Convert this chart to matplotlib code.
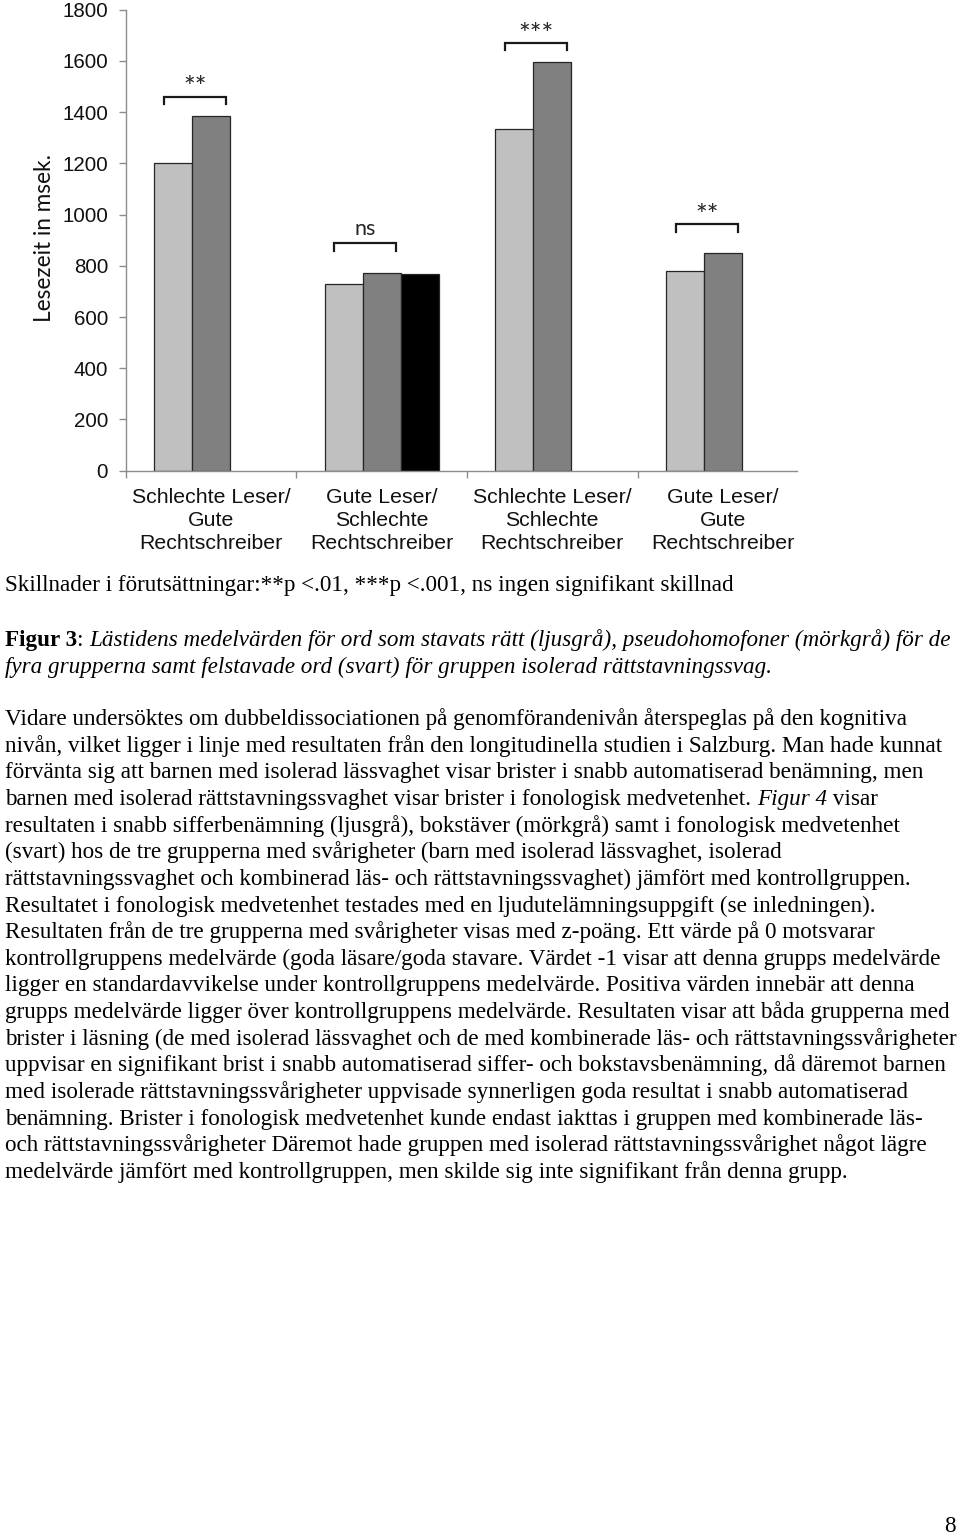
import matplotlib
matplotlib.use("Agg")
import matplotlib.pyplot as plt
import numpy as np

# ---------------- data ----------------
categories = ["Schlechte Leser/\nGute\nRechtschreiber",
              "Gute Leser/\nSchlechte\nRechtschreiber",
              "Schlechte Leser/\nSchlechte\nRechtschreiber",
              "Gute Leser/\nGute\nRechtschreiber"]
korrekt = [1200, 728, 1335, 779]            # ljusgrå
pseudo = [1385, 771, 1596, 850]             # mörkgrå
falsch = [np.nan, 768, np.nan, np.nan]      # svart
signif = ["**", "ns", "***", "**"]
bracket_top = [1460, 888, 1670, 962]
y_ticks = list(range(0, 1801, 200))
y_label = "Lesezeit in msek."

note_line = "Skillnader i förutsättningar:**p <.01, ***p <.001, ns ingen signifikant skillnad"
caption_lines = [
    [("Figur 3", "bold"), (": ", "normal"),
     ("Lästidens medelvärden för ord som stavats rätt (ljusgrå), pseudohomofoner (mörkgrå) för de", "italic")],
    [("fyra grupperna samt felstavade ord (svart) för gruppen isolerad rättstavningssvag.", "italic")],
]
body_lines = [
    [("Vidare undersöktes om dubbeldissociationen på genomförandenivån återspeglas på den kognitiva", "normal")],
    [("nivån, vilket ligger i linje med resultaten från den longitudinella studien i Salzburg. Man hade kunnat", "normal")],
    [("förvänta sig att barnen med isolerad lässvaghet visar brister i snabb automatiserad benämning, men", "normal")],
    [("barnen med isolerad rättstavningssvaghet visar brister i fonologisk medvetenhet. ", "normal"),
     ("Figur 4", "italic"), (" visar", "normal")],
    [("resultaten i snabb sifferbenämning (ljusgrå), bokstäver (mörkgrå) samt i fonologisk medvetenhet", "normal")],
    [("(svart) hos de tre grupperna med svårigheter (barn med isolerad lässvaghet, isolerad", "normal")],
    [("rättstavningssvaghet och kombinerad läs- och rättstavningssvaghet) jämfört med kontrollgruppen.", "normal")],
    [("Resultatet i fonologisk medvetenhet testades med en ljudutelämningsuppgift (se inledningen).", "normal")],
    [("Resultaten från de tre grupperna med svårigheter visas med z-poäng. Ett värde på 0 motsvarar", "normal")],
    [("kontrollgruppens medelvärde (goda läsare/goda stavare. Värdet -1 visar att denna grupps medelvärde", "normal")],
    [("ligger en standardavvikelse under kontrollgruppens medelvärde. Positiva värden innebär att denna", "normal")],
    [("grupps medelvärde ligger över kontrollgruppens medelvärde. Resultaten visar att båda grupperna med", "normal")],
    [("brister i läsning (de med isolerad lässvaghet och de med kombinerade läs- och rättstavningssvårigheter", "normal")],
    [("uppvisar en signifikant brist i snabb automatiserad siffer- och bokstavsbenämning, då däremot barnen", "normal")],
    [("med isolerade rättstavningssvårigheter uppvisade synnerligen goda resultat i snabb automatiserad", "normal")],
    [("benämning. Brister i fonologisk medvetenhet kunde endast iakttas i gruppen med kombinerade läs-", "normal")],
    [("och rättstavningssvårigheter Däremot hade gruppen med isolerad rättstavningssvårighet något lägre", "normal")],
    [("medelvärde jämfört med kontrollgruppen, men skilde sig inte signifikant från denna grupp.", "normal")],
]
page_number = "8"

# ---------------- figure ----------------
W, H = 960, 1535
fig = plt.figure(figsize=(W / 100, H / 100), dpi=100)
fig.patch.set_facecolor("white")

def fx(px):
    return px / W

def fy(py):
    return 1 - py / H

ax = fig.add_axes([fx(125.5), fy(470.7), 671.5 / W, 461 / H])
x = np.arange(len(categories))
w = 0.2226
edge = "#262626"
ax.bar(x - w, korrekt, w, color="#c0c0c0", edgecolor=edge, linewidth=0.9, zorder=2)
ax.bar(x, pseudo, w, color="#808080", edgecolor=edge, linewidth=0.9, zorder=2)
ax.bar(x + w, falsch, w, color="#000000", edgecolor=edge, linewidth=0.9, zorder=2)

ax.set_xlim(-0.5, 3.434)
ax.set_ylim(0, 1800)
for s in ["top", "right"]:
    ax.spines[s].set_visible(False)
for s in ["left", "bottom"]:
    ax.spines[s].set_color("#8c8c8c")
    ax.spines[s].set_linewidth(1.0)

ax.set_yticks(y_ticks)
ax.set_yticklabels([str(v) for v in y_ticks], fontfamily="Liberation Sans",
                   fontsize=14.8, color="#111111")
ax.tick_params(axis="y", direction="out", length=5, width=1, color="#8c8c8c", pad=7.5)

ax.set_xticks(x)
ax.set_xticklabels(categories, fontfamily="Liberation Sans", fontsize=15.3,
                   color="#111111", linespacing=1.26)
ax.tick_params(axis="x", which="major", length=0, pad=12.5)
ax.set_xticks(np.arange(len(categories)) - 0.5, minor=True)
ax.tick_params(axis="x", which="minor", direction="out", length=5, width=1, color="#8c8c8c")

fig.text(fx(45), fy(238), y_label, rotation=90, ha="center", va="center",
         fontfamily="Lato", fontsize=16.3, color="#111111")

for i, lab in enumerate(signif):
    x0, x1 = i - 0.276, i + 0.087
    yt = bracket_top[i]
    ax.plot([x0, x0, x1, x1], [yt - 29, yt, yt, yt - 29], color="#1a1a1a",
            lw=1.6, clip_on=False, zorder=3, solid_joinstyle="miter")
    if "*" in lab:
        ax.text((x0 + x1) / 2, yt - 2, lab, ha="center", va="baseline",
                fontfamily="Lato", fontsize=20, color="#262626")
    else:
        ax.text((x0 + x1) / 2, yt + 33, lab, ha="center", va="baseline",
                fontfamily="Lato", fontsize=15.5, color="#262626")

# ---------------- text below ----------------
renderer = fig.canvas.get_renderer()
SERIF = "Liberation Serif"

def width_px(s, fs, style):
    kw = dict(fontfamily=SERIF, fontsize=fs)
    if style == "bold":
        kw["fontweight"] = "bold"
    elif style == "italic":
        kw["fontstyle"] = "italic"
    t1 = fig.text(0, 0, s + "|", **kw)
    t2 = fig.text(0, 0, "|", **kw)
    wv = t1.get_window_extent(renderer).width - t2.get_window_extent(renderer).width
    t1.remove()
    t2.remove()
    return wv

# font size fitted to the width of the first body line
ref = body_lines[0][0][0]
tm = fig.text(0, 0, ref, fontfamily=SERIF, fontsize=10)
w10 = tm.get_window_extent(renderer).width
tm.remove()
FS = 10 * 901 / w10

def draw_runs(x0, y_base, runs):
    xc = x0
    for s, style in runs:
        kw = dict(fontfamily=SERIF, fontsize=FS, color="black", ha="left", va="baseline")
        if style == "bold":
            kw["fontweight"] = "bold"
        elif style == "italic":
            kw["fontstyle"] = "italic"
        fig.text(fx(xc), fy(y_base), s, **kw)
        xc += width_px(s, FS, style)

draw_runs(5, 591, [(note_line, "normal")])
for k, runs in enumerate(caption_lines):
    draw_runs(5, 646 + 26.5 * k, runs)
for k, runs in enumerate(body_lines):
    draw_runs(5, 725 + 26.65 * k, runs)

fig.text(fx(950), fy(1532), page_number, fontfamily=SERIF, fontsize=FS,
         ha="center", va="baseline", color="black")

fig.savefig("out.png", dpi=100, facecolor="white")
